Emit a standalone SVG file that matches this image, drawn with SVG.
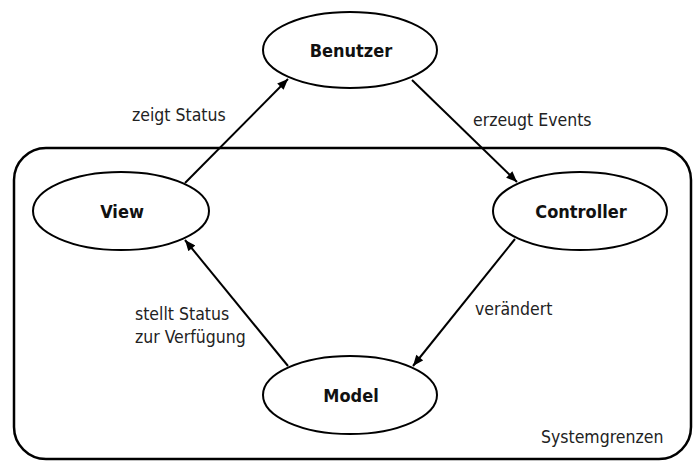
<svg xmlns="http://www.w3.org/2000/svg" width="696" height="461" viewBox="0 0 696 461">
<style>
.node{fill:#fff;stroke:#000;stroke-width:2}
.nt{font-family:"DejaVu Sans Condensed","DejaVu Sans",sans-serif;font-stretch:condensed;font-weight:bold;font-size:18px;fill:#111;text-anchor:middle}
.lbl{font-family:"DejaVu Sans Condensed","DejaVu Sans",sans-serif;font-stretch:condensed;font-size:17.5px;fill:#222}
.edge{stroke:#000;stroke-width:2;fill:none;marker-end:url(#ah)}
.bound{fill:none;stroke:#000;stroke-width:2.5}
</style>
<defs>
<marker id="ah" viewBox="0 0 12 10" refX="12" refY="5" markerWidth="12" markerHeight="9" markerUnits="userSpaceOnUse" orient="auto">
<path d="M0,0 L12,5 L0,10 Z" fill="#000"/>
</marker>
</defs>
<rect width="696" height="461" fill="#fff"/>
<g id="boundary">
<rect class="bound" x="14" y="148" width="677" height="311" rx="32" ry="32"/>
<text class="lbl" x="541" y="443">Systemgrenzen</text>
</g>
<g id="connectors">
<line class="edge" x1="185" y1="183" x2="288" y2="79"/>
<line class="edge" x1="412" y1="80" x2="517" y2="182"/>
<line class="edge" x1="515" y1="239" x2="413" y2="366"/>
<line class="edge" x1="288" y1="366" x2="185" y2="240"/>
<text class="lbl" x="132" y="121">zeigt Status</text>
<text class="lbl" x="473" y="126">erzeugt Events</text>
<text class="lbl" x="475" y="315">verändert</text>
<text class="lbl" x="135" y="320">stellt Status</text>
<text class="lbl" x="135" y="343">zur Verfügung</text>
</g>
<g id="benutzer">
<ellipse class="node" cx="350" cy="50" rx="87" ry="38"/>
<text class="nt" x="351" y="57">Benutzer</text>
</g>
<g id="view">
<ellipse class="node" cx="121" cy="211" rx="88" ry="39"/>
<text class="nt" x="122" y="218">View</text>
</g>
<g id="controller">
<ellipse class="node" cx="580" cy="211" rx="87" ry="39"/>
<text class="nt" x="581" y="218">Controller</text>
</g>
<g id="model">
<ellipse class="node" cx="350" cy="395" rx="87" ry="39"/>
<text class="nt" x="351" y="402">Model</text>
</g>
</svg>
